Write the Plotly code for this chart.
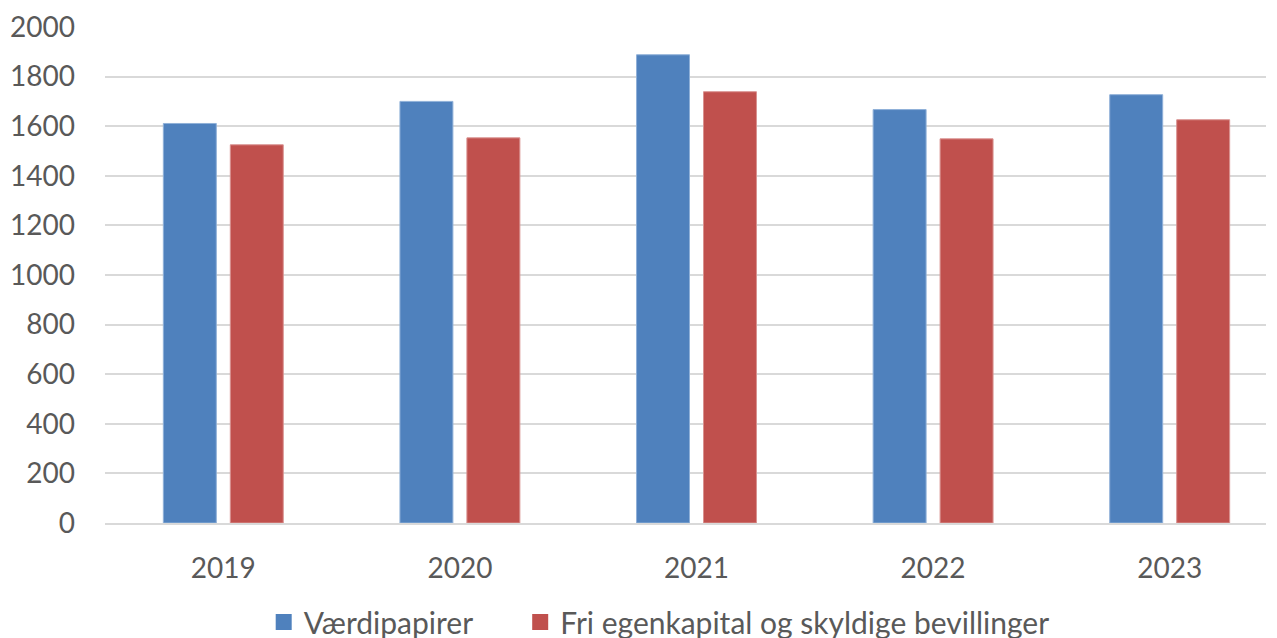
import plotly.graph_objects as go

years = ["2019", "2020", "2021", "2022", "2023"]
vaerdipapirer = [1611, 1700, 1888, 1667, 1727]
fri_egenkapital = [1525, 1553, 1739, 1549, 1626]
series_names = ["Værdipapirer", "Fri egenkapital og skyldige bevillinger"]
series_colors = ["#4F81BD", "#C0504D"]
edge_colors = ["#8FB0D8", "#D99290"]
y_ticks = [0, 200, 400, 600, 800, 1000, 1200, 1400, 1600, 1800, 2000]

W, H = 1277, 638
OFF = 8  # page body offset
left, right_px, top, bottom_px = 105 - OFF, 1266 - OFF, 27 - OFF, 523 - OFF
cat_px = 236.6
x_hi = -0.5 + (right_px - left) / cat_px
plot_w = right_px - left

font_family = "Lato, 'Open Sans', sans-serif"
txt = "#595959"

fig = go.Figure()
for vals, name, col, ecol in zip([vaerdipapirer, fri_egenkapital], series_names,
                                 series_colors, edge_colors):
    fig.add_trace(go.Bar(x=years, y=vals, name=name, showlegend=False,
                         marker=dict(color=col, line=dict(color=ecol, width=1))))

# legend entries (square swatches), one legend per series
for i, (name, col) in enumerate(zip(series_names, series_colors)):
    fig.add_trace(go.Scatter(x=[None], y=[None], mode="markers", name=name,
                             marker=dict(symbol="square", size=18, color=col),
                             legend="legend" if i == 0 else "legend2",
                             hoverinfo="skip"))

leg_common = dict(orientation="h", xanchor="left", y=-0.147, yanchor="top",
                  yref="paper", font=dict(size=30, color=txt),
                  itemsizing="trace", bgcolor="rgba(0,0,0,0)")

fig.update_layout(
    width=W, height=H,
    margin=dict(l=left, r=W - right_px, t=top, b=H - bottom_px, autoexpand=False),
    paper_bgcolor="white", plot_bgcolor="white",
    barmode="group", bargap=0.434, bargroupgap=0.209,
    font=dict(family=font_family, color=txt, size=28),
    showlegend=True,
    legend=dict(x=(283.5 - 19.8 - OFF - left) / plot_w, **leg_common),
    legend2=dict(x=(540 - 19.8 - OFF - left) / plot_w, **leg_common),
    xaxis=dict(type="category", range=[-0.5, x_hi], showgrid=False, showline=True,
               linecolor="#d9d9d9", linewidth=1.5, ticks="", ticklabelstandoff=20,
               tickfont=dict(size=28, color=txt), zeroline=False),
    yaxis=dict(range=[0, 2000], tickvals=y_ticks, showgrid=True, gridcolor="#d9d9d9",
               gridwidth=1.5, zeroline=False, showline=False, ticks="",
               ticklabelstandoff=29, tickfont=dict(size=28, color=txt)),
)

fig.write_html("out.html")
